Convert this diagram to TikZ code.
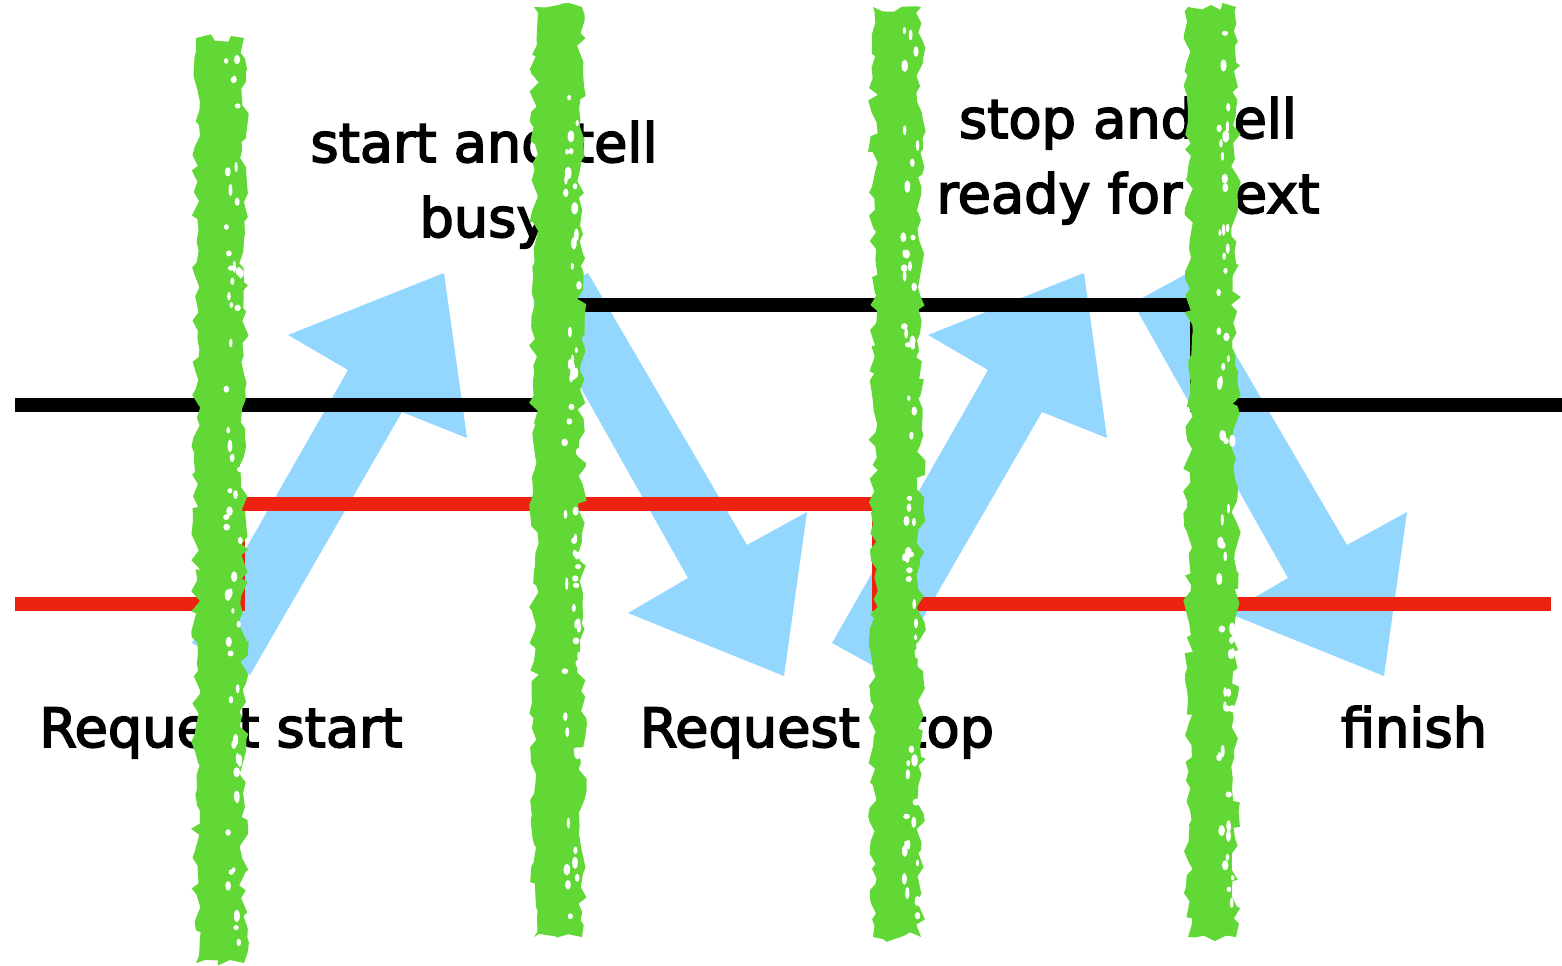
\documentclass[tikz,border=0pt]{standalone}
\usepackage{fontspec}
\setmainfont{DejaVu Sans}
\newfontfamily\lblfont{DejaVu Sans}[FakeBold=3]
\usetikzlibrary{decorations.pathmorphing}

\definecolor{figblue}{HTML}{93D6FE}
\definecolor{figgreen}{HTML}{62D836}
\definecolor{figred}{HTML}{EE2211}

\begin{document}
\begin{tikzpicture}[
  x=0.01cm, y=-0.01cm,
  font=\lblfont\fontsize{15.4}{21.3}\selectfont,
  sig/.style={draw=black, line width=0.14cm},
  req/.style={sig, draw=figred},
  fat/.style={fill=figblue},
  lbl/.style={anchor=base, align=center, inner sep=0pt},
  cut/.style={fill=figgreen, decorate,
              decoration={random steps, segment length=2.5pt, amplitude=1.4pt}},
  speck/.style={fill=white}]

  \useasboundingbox (0,0) rectangle (1562,966);

  % ---- fat arrows (up, down) ---------------------------------------------
  \foreach \dx in {0,640} {
    \fill[fat, shift={(\dx,0)}] (192,643) -- (348,370) -- (288,335) -- (444,273)
      -- (467,438) -- (402,412) -- (250,675) -- cycle;
  }
  \foreach \dx in {0,600} {
    \fill[fat, shift={(\dx,0)}] (588,273) -- (747,545) -- (807,512) -- (784,676)
      -- (628,613) -- (688,578) -- (533,303) -- cycle;
  }

  % ---- signals ------------------------------------------------------------
  \draw[sig] (15,405) -- (570,405) -- (570,305) -- (1197,305) -- (1197,405) -- (1562,405);
  \draw[req] (15,604) -- (238,604) -- (238,504) -- (879,504) -- (879,604) -- (1551,604);

  % ---- labels (base = last line) ------------------------------------------
  \node[lbl] (startTell) at (484,237) {start and tell\\busy};
  \node[lbl] (stopTell)  at (1128,213) {stop and tell\\ready for next};
  \node[lbl] (reqStart)  at (221,747) {Request start};
  \node[lbl] (reqStop)   at (817,747) {Request stop};
  \node[lbl] (finish)    at (1414,747) {finish};

  % ---- scribbled cuts -----------------------------------------------------
  \pgfmathsetseed{11}
  \foreach \cx/\yt/\yb in {220/38/963, 558/7/937, 897/7/937, 1212/7/937} {
    \fill[cut] (\cx-24,\yt) rectangle (\cx+24,\yb);
    \foreach \k in {1,...,55} {
      \pgfmathsetmacro\sx{\cx+6+15*rnd}
      \pgfmathsetmacro\sy{\yt+20+(\yb-\yt-40)*rnd}
      \pgfmathsetmacro\rx{1.5+2*rnd}
      \pgfmathsetmacro\ry{2.5+4*rnd}
      \fill[speck] (\sx,\sy) ellipse ({\rx} and {\ry});
    }
  }
\end{tikzpicture}
\end{document}
